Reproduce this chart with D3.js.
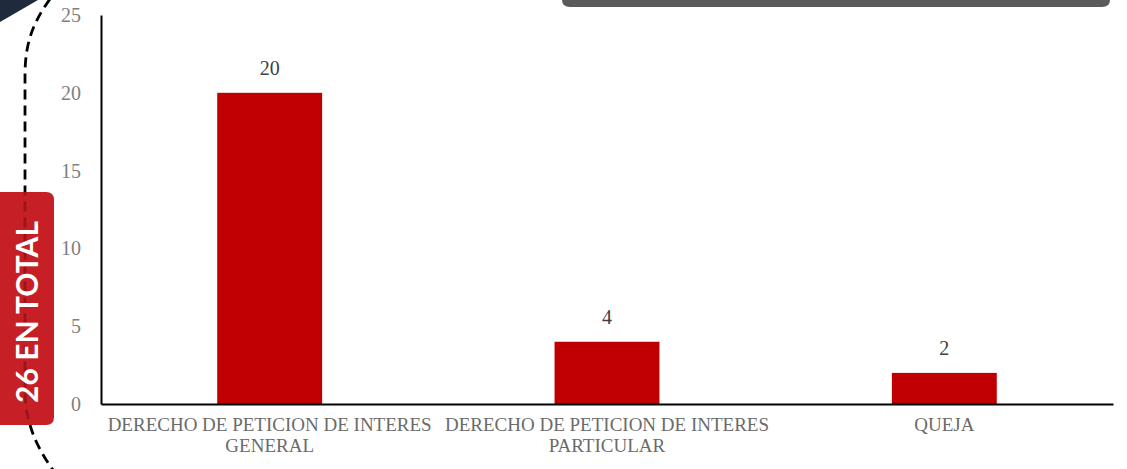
<!DOCTYPE html>
<html><head><meta charset="utf-8">
<script src="https://cdn.jsdelivr.net/npm/d3@7"></script>
<style>html,body{margin:0;padding:0;background:#fff;overflow:hidden}</style>
</head><body><svg id="c" width="1127" height="469"></svg>
<script>
const categories = ["DERECHO DE PETICION DE INTERES GENERAL", "DERECHO DE PETICION DE INTERES PARTICULAR", "QUEJA"];
const values = [20, 4, 2];
const yTicks = [0, 5, 10, 15, 20, 25];
const totalLabel = "26 EN TOTAL";

const svg = d3.select("#c");
const serif = "'Liberation Serif','DejaVu Serif',serif";

// decorations
svg.append("path").attr("d","M0,0 L38,0 L0,22 Z").attr("fill","#1f2a3c");
svg.append("path").attr("d","M562,0 L1110,0 L1110,0 Q1110,7 1102,7 L570,7 Q562,7 562,0 Z").attr("fill","#5b5b5b");
const dashD = "M50,-1 C35,20 25,40 25,75 L25,390 C25,420 35,445 53,470";
svg.append("path").attr("d",dashD)
  .attr("fill","none").attr("stroke","#000").attr("stroke-width",2.8).attr("stroke-dasharray","10,6");
const boxD = "M-10,192 L46,192 Q54,192 54,200 L54,417 Q54,425 46,425 L-10,425 Z";
svg.append("clipPath").attr("id","boxclip").append("path").attr("d",boxD);
svg.append("path").attr("d",boxD).attr("fill","#c62026");
svg.append("path").attr("d",dashD).attr("clip-path","url(#boxclip)")
  .attr("fill","none").attr("stroke","#9a1418").attr("stroke-width",2.8).attr("stroke-dasharray","10,6");
svg.append("text").attr("transform","translate(38,312) rotate(-90)")
  .attr("text-anchor","middle").attr("font-family","Lato,'Open Sans',sans-serif")
  .attr("font-weight","bold").attr("font-size",30).attr("fill","#fff").text(totalLabel);

const x = d3.scaleBand().domain(categories).range([101,1113]).paddingInner(0.689).paddingOuter(0.3445);
const y = d3.scaleLinear().domain([0,25]).range([404,15]);

// y axis
const ya = svg.append("g").attr("transform","translate(101,0)")
  .call(d3.axisLeft(y).tickValues(yTicks).tickSize(0).tickPadding(20));
ya.select(".domain").attr("stroke","#000").attr("stroke-width",2);
ya.selectAll("text").attr("font-family",serif).attr("font-size",20).attr("fill","#7f7f7f");

// bars
svg.selectAll("rect.bar").data(values).join("rect").attr("class","bar")
  .attr("x",(d,i)=>x(categories[i])).attr("width",x.bandwidth())
  .attr("y",d=>y(d)).attr("height",d=>y(0)-y(d)).attr("fill","#c00000");

// value labels
svg.selectAll("text.val").data(values).join("text").attr("class","val")
  .attr("x",(d,i)=>x(categories[i])+x.bandwidth()/2).attr("y",d=>y(d)-18)
  .attr("text-anchor","middle").attr("font-family",serif).attr("font-size",20).attr("fill","#404040")
  .text(d=>d);

// x axis
const xa = svg.append("g").attr("transform","translate(0,404)")
  .call(d3.axisBottom(x).tickSize(0).tickPadding(0).tickFormat(""));
xa.select(".domain").attr("stroke","#000").attr("stroke-width",2);

const maxW = x.step() - 2;
categories.forEach((c,i)=>{
  const t = svg.append("text").attr("text-anchor","middle").attr("font-family",serif)
    .attr("font-size",19).attr("fill","#6b6b6b");
  const cx = x(c)+x.bandwidth()/2;
  const words = c.split(" ");
  let line = [], lines = [];
  const probe = t.append("tspan");
  words.forEach(w=>{
    line.push(w);
    probe.text(line.join(" "));
    if (probe.node().getComputedTextLength() > maxW && line.length>1){
      line.pop(); lines.push(line.join(" ")); line=[w];
    }
  });
  lines.push(line.join(" "));
  probe.remove();
  lines.forEach((l,k)=>t.append("tspan").attr("x",cx).attr("y",431+k*21).text(l));
});
</script></body></html>
